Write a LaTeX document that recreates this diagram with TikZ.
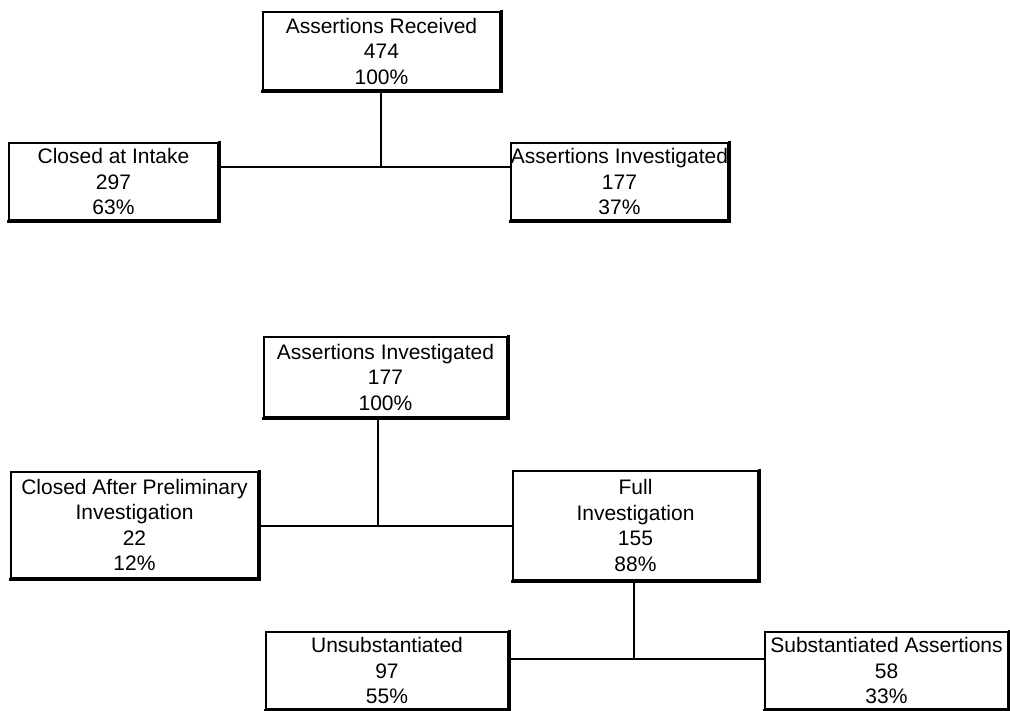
\documentclass[tikz,border=0pt]{standalone}
\usepackage{fontspec}
\setmainfont{Liberation Sans}
\begin{document}
\begin{tikzpicture}[x=1pt,y=-1pt,
  box/.style={draw=black, line width=1.5pt, fill=white, inner sep=0pt, align=center,
    font=\fontsize{21}{25.5}\selectfont},
  link/.style={draw=black, line width=1.4pt},
  shadowedge/.style={draw=black, line width=3.2pt, line cap=rect}]
\useasboundingbox (0,0) rectangle (1010,711);
\fill[white] (0,0) rectangle (1010,711);

\node[box, minimum width=237pt, minimum height=78pt] (b1) at (381.5,51) {Assertions Received\\474\\100\%};
\node[box, minimum width=209pt, minimum height=77pt] (b2) at (113.5,181.5) {Closed at Intake\\297\\63\%};
\node[box, minimum width=217pt, minimum height=77pt] (b3) at (619.5,181.5) {Assertions Investigated\\177\\37\%};

\node[box, minimum width=243pt, minimum height=80pt] (b4) at (385.5,377) {Assertions Investigated\\177\\100\%};
\node[box, minimum width=247pt, minimum height=106pt] (b5) at (134.5,525) {Closed After Preliminary\\Investigation\\22\\12\%};
\node[box, minimum width=245pt, minimum height=109pt] (b6) at (635.5,525.5) {Full\\Investigation\\155\\88\%};
\node[box, minimum width=242pt, minimum height=77pt] (b7) at (387,670.5) {Unsubstantiated\\97\\55\%};
\node[box, minimum width=243pt, minimum height=77pt] (b8) at (886.5,670.5) {Substantiated Assertions\\58\\33\%};

\foreach \n in {b1,b2,b3,b4,b5,b6,b7,b8}
  \draw[shadowedge] ([shift={(0.8,0)}]\n.north east) -- ([shift={(0.8,0.8)}]\n.south east) -- ([shift={(0,0.8)}]\n.south west);

\coordinate (j1) at (381,167);
\coordinate (j2) at (378,526);
\coordinate (j3) at (634,659);

\draw[link] (b1.south -| j1) -- (j1);
\draw[link] (b2.east |- j1) -- (b3.west |- j1);
\draw[link] (b4.south -| j2) -- (j2);
\draw[link] (b5.east |- j2) -- (b6.west |- j2);
\draw[link] (b6.south -| j3) -- (j3);
\draw[link] (b7.east |- j3) -- (b8.west |- j3);
\end{tikzpicture}
\end{document}
